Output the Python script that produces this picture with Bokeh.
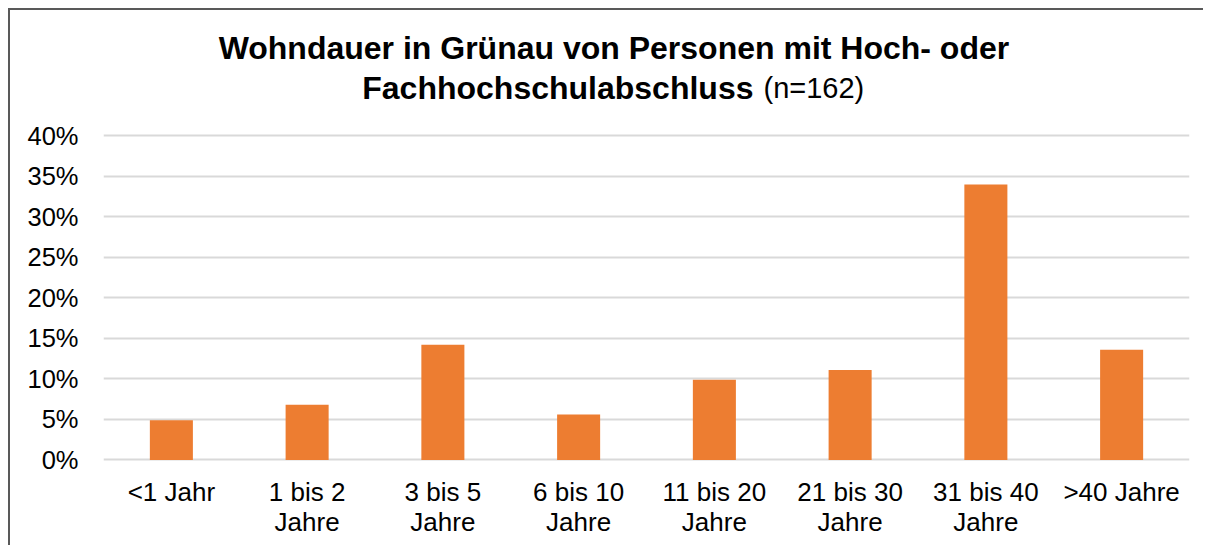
from bokeh.plotting import figure
from bokeh.models import Range1d, FactorRange, PrintfTickFormatter, FixedTicker, ColumnDataSource
from bokeh.core.properties import value
from bokeh.embed import file_html
from bokeh.resources import INLINE

categories = ["<1 Jahr", "1 bis 2\nJahre", "3 bis 5\nJahre", "6 bis 10\nJahre",
              "11 bis 20\nJahre", "21 bis 30\nJahre", "31 bis 40\nJahre", ">40 Jahre"]
values = [4.9, 6.8, 14.2, 5.6, 9.9, 11.1, 34.0, 13.6]
y_ticks = [0, 5, 10, 15, 20, 25, 30, 35, 40]
title_line1 = "Wohndauer in Grünau von Personen mit Hoch- oder"
title_line2_bold = "Fachhochschulabschluss"
title_line2_normal = "(n=162)"

FONT = "Liberation Sans"

p = figure(width=1195, height=537, x_range=FactorRange(*categories), y_range=Range1d(-0.2, 55.48),
           output_backend="svg", toolbar_location=None,
           min_border_left=93, min_border_right=16, min_border_top=0, min_border_bottom=86)
p.styles = {"margin-left": "8px", "margin-top": "8px",
            "border-left": "2px solid #595959", "border-top": "2px solid #595959"}

src = ColumnDataSource(dict(cat=categories, val=values))
p.vbar(x="cat", top="val", width=0.317, source=src, fill_color="#ED7D31", line_color=None)

p.outline_line_color = None
p.xgrid.grid_line_color = None
p.ygrid.grid_line_color = "#d9d9d9"
p.ygrid.grid_line_width = 2
p.yaxis.ticker = FixedTicker(ticks=y_ticks)
p.yaxis.formatter = PrintfTickFormatter(format="%d%%")

for ax in (p.xaxis, p.yaxis):
    ax.axis_line_color = None
    ax.major_tick_line_color = None
    ax.minor_tick_line_color = None
    ax.major_tick_out = 0
    ax.major_tick_in = 0
    ax.minor_tick_out = 0
    ax.major_label_text_font = FONT
    ax.major_label_text_color = "#000000"

p.yaxis.major_label_standoff = 25
p.yaxis.major_label_text_font_size = "25.5px"
p.xaxis.major_label_text_font_size = "26px"
p.xaxis.major_label_standoff = 15
p.xaxis.major_label_text_line_height = 1.0

# title drawn as text inside the (extended) frame, above the 40% line
p.text(x=[3.76], y=[50.9], text=[title_line1], text_font=value(FONT), text_font_style="bold",
       text_font_size="32px", text_align="center", text_baseline="alphabetic", text_color="#000000")
p.text(x=[4.788], y=[45.96], text=[title_line2_bold], text_font=value(FONT), text_font_style="bold",
       text_font_size="32px", text_align="right", text_baseline="alphabetic", text_color="#000000")
p.text(x=[4.862], y=[45.96], text=[title_line2_normal], text_font=value(FONT), text_font_style="normal",
       text_font_size="29px", text_align="left", text_baseline="alphabetic", text_color="#000000")

open("out.html", "w").write(file_html(p, INLINE))
